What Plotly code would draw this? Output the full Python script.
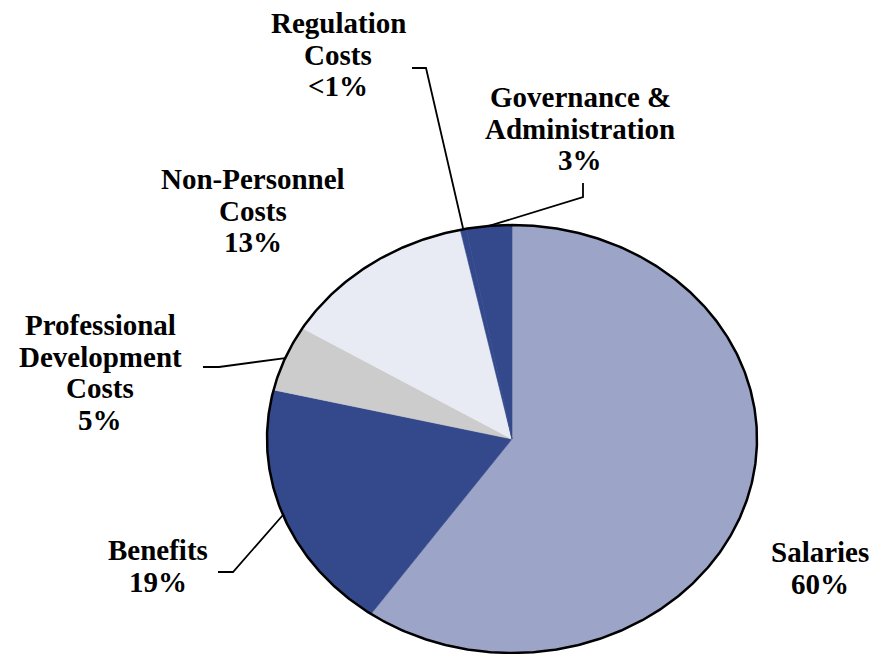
import numpy as np
import plotly.graph_objects as go

# ---- data -------------------------------------------------------------
categories = ["Salaries", "Benefits", "Professional Development Costs",
              "Non-Personnel Costs", "Regulation Costs", "Governance & Administration"]
values = [60, 19, 5, 13, 0.4, 3]
pct_labels = ["60%", "19%", "5%", "13%", "<1%", "3%"]
label_lines = [["Salaries"], ["Benefits"], ["Professional", "Development", "Costs"],
               ["Non-Personnel", "Costs"], ["Regulation", "Costs"],
               ["Governance &", "Administration"]]
colors = ["#9CA4C7", "#34498C", "#CCCCCC", "#E8EBF4", "#34498C", "#34498C"]

# ---- geometry of the (elliptical) pie, in page pixels ------------------
W, H = 872, 654
CX, CY = 512, 439        # centre
RX, RY = 245, 214        # horizontal / vertical radii

# label block: centre x, first baseline y; leader: elbow path (None = no leader)
label_pos = [(820, 562), (158, 560), (100, 335), (253, 189), (338, 33), (580, 107)]
leaders = [None,
           [(218, 572), (233, 572)],
           [(203, 367), (219, 367)],
           None,
           [(412, 68), (426, 68)],
           [(583, 183), (583, 197)]]
FS = 29
LINE_H = 31.5
FONT = "Liberation Serif"


def ellipse_pt(t_deg):
    """Point on the rim, angle measured clockwise from 12 o'clock."""
    t = np.radians(t_deg)
    return CX + RX * np.sin(t), CY - RY * np.cos(t)


def esc(s):
    return s.replace("&", "&amp;").replace("<", "&lt;").replace(">", "&gt;")


fig = go.Figure()

total = float(sum(values))
start = 0.0
mids = []
for name, v, col in zip(categories, values, colors):
    sweep = 360.0 * v / total
    n = max(int(sweep * 4), 2)
    xs, ys = ellipse_pt(start + np.linspace(0, sweep, n))
    px = np.concatenate([[CX], xs, [CX]])
    py = np.concatenate([[CY], ys, [CY]])
    fig.add_trace(go.Scatter(x=px, y=py, mode="lines", fill="toself",
                             fillcolor=col, line=dict(color=col, width=0.6),
                             name=name, hoverinfo="name", showlegend=False))
    mids.append(start + sweep / 2)
    start += sweep

# outline
tt = np.linspace(0, 360, 721)
ox, oy = ellipse_pt(tt)
fig.add_trace(go.Scatter(x=ox, y=oy, mode="lines",
                         line=dict(color="black", width=2.5),
                         hoverinfo="skip", showlegend=False))

# leader lines from label elbows to the rim at each slice's mid-angle
for i, path in enumerate(leaders):
    if path is None:
        continue
    ex, ey = ellipse_pt(mids[i])
    lx = [p[0] for p in path] + [ex]
    ly = [p[1] for p in path] + [ey]
    fig.add_trace(go.Scatter(x=lx, y=ly, mode="lines",
                             line=dict(color="black", width=1.8),
                             hoverinfo="skip", showlegend=False))

# labels, one annotation per line
annotations = []
for i, (lines, pct) in enumerate(zip(label_lines, pct_labels)):
    cx, base = label_pos[i]
    for k, txt in enumerate(lines + [pct]):
        b = base + k * LINE_H
        annotations.append(dict(
            x=cx, y=b - 9.8, xref="x", yref="y", text="<b>%s</b>" % esc(txt),
            showarrow=False, xanchor="center", yanchor="middle",
            font=dict(family=FONT, size=FS, color="black")))

fig.update_layout(
    width=W, height=H, autosize=False,
    margin=dict(l=0, r=0, t=0, b=0),
    paper_bgcolor="white", plot_bgcolor="white",
    font=dict(family=FONT),
    xaxis=dict(range=[0, W], visible=False, fixedrange=True),
    yaxis=dict(range=[H, 0], visible=False, fixedrange=True),
    annotations=annotations,
    showlegend=False,
)

fig.write_html("out.html")
